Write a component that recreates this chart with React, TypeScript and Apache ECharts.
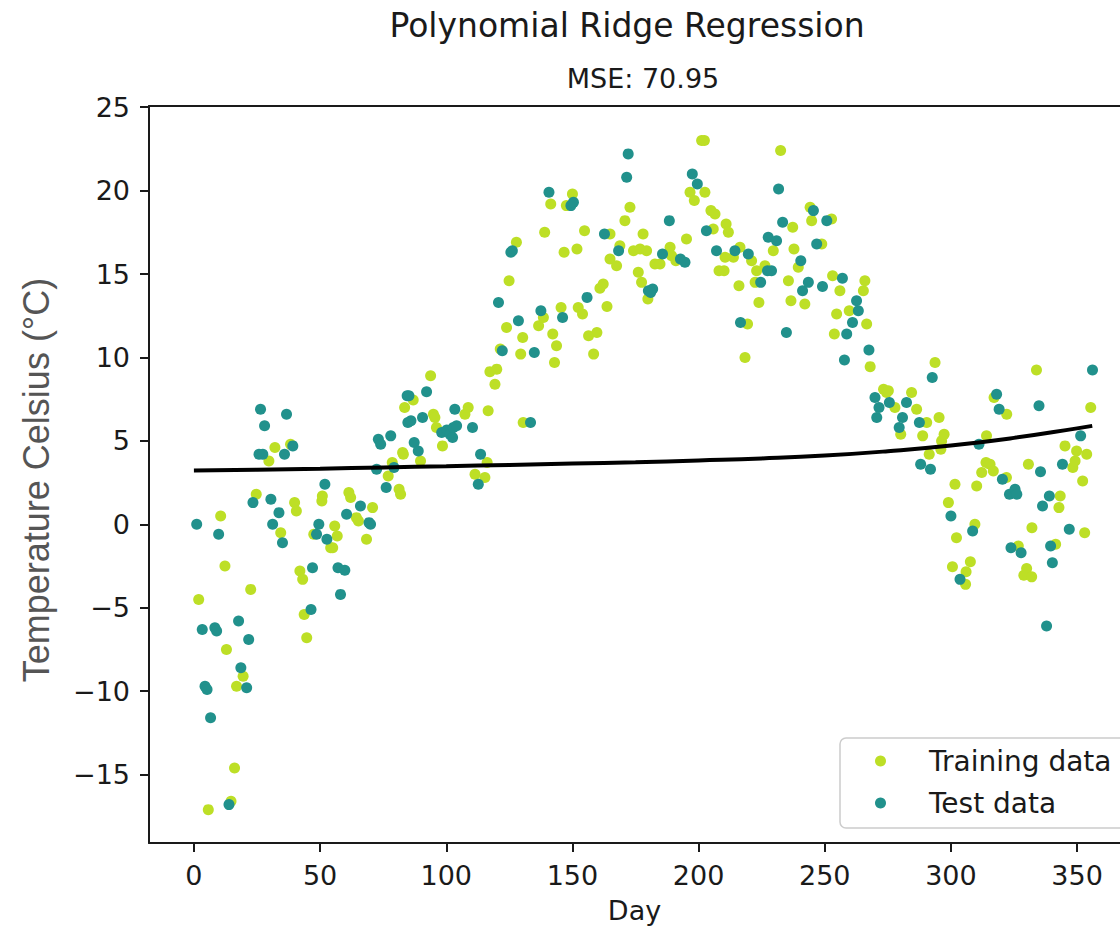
import React, { useEffect, useRef } from "react";
import * as echarts from "echarts";

const titleText = "Polynomial Ridge Regression";
const subtitleText = "MSE: 70.95";
const xLabel = "Day";
const yLabel = "Temperature Celsius (°C)";
const seriesNames = ["Training data", "Test data"];

const xTicks = [0, 50, 100, 150, 200, 250, 300, 350];
const yTicks = [-15, -10, -5, 0, 5, 10, 15, 20, 25];

// [day, temperature]
const trainData: number[][] = [
  [1.9, -4.5], [5.7, -17.1], [10.6, 0.5], [12.3, -2.5], [12.9, -7.5], [14.7, -16.6], [16.1, -14.6],
  [16.9, -9.7], [19.5, -9.1], [22.5, -3.9], [24.7, 1.8], [29.7, 3.8], [32.1, 4.6], [38.3, 4.8],
  [34.4, -0.5], [39.9, 1.3], [40.6, 0.8], [42, -2.8], [43.1, -3.3], [43.7, -5.4], [44.7, -6.8],
  [47.5, -0.6], [50.7, 1.4], [50.9, 1.7], [54.2, -1.4], [55, -1.4], [55.8, -0.1], [56.8, -0.7],
  [61.4, 1.9], [62.1, 1.6], [64.4, 0.4], [65.2, 0.2], [68.4, -0.9], [70.8, 1.0], [77, 2.9],
  [78.6, 3.7], [81.3, 2.1], [81.9, 1.8], [82.7, 4.3], [83.5, 7.0], [83, 4.2], [86.9, 7.45],
  [89.8, 3.8], [93.8, 8.9], [94.9, 6.6], [95.5, 6.4], [96.1, 5.8], [98.5, 4.7], [107.4, 6.6],
  [108.7, 7.0], [111.4, 3.0], [115.3, 2.8], [116.2, 3.7], [116.6, 6.8], [117.3, 9.15], [119.3, 8.4],
  [120, 9.3], [121.4, 10.5], [123.9, 11.8], [124.9, 14.6], [127.8, 16.9], [129.5, 10.2], [130.3, 11.2],
  [130.5, 6.1], [136.6, 11.9], [138.5, 12.4], [139, 17.5], [141.4, 19.2], [142.2, 11.4], [142.9, 9.7],
  [143.7, 10.7], [145.5, 13.0], [146.7, 16.3], [147.6, 19.1], [150, 19.8], [151.8, 16.5], [152.3, 13.0],
  [154, 12.6], [154.8, 17.6], [156.4, 11.3], [158.4, 10.2], [159.7, 11.5], [160.9, 14.15], [162.2, 14.4],
  [163.7, 13.05], [164.9, 17.4], [164.9, 15.9], [167.5, 15.5], [168.8, 16.7], [170.8, 18.2], [172.8, 19.0],
  [174.2, 16.4], [176.1, 15.1], [176.8, 16.5], [177.4, 14.5], [178, 17.4], [179.4, 16.4], [179.9, 13.5],
  [182.7, 15.6], [184.7, 15.6], [188.7, 16.6], [189.3, 16.1], [191, 15.8], [195.2, 17.1], [196.6, 19.9],
  [198.3, 19.4], [201.2, 23.0], [202.3, 23.0], [202.5, 19.9], [204.9, 18.8], [205.8, 17.7], [206.5, 18.6],
  [208.1, 15.2], [210.1, 15.2], [210.5, 16.0], [210.9, 18.0], [211.8, 17.5], [213.8, 16.0], [216, 14.3],
  [216.4, 16.6], [218.4, 10.0], [219.4, 12.0], [221, 15.8], [222.4, 14.5], [223, 15.2], [223.9, 13.3],
  [226.3, 15.5], [229.6, 16.4], [232.5, 22.4], [235.6, 14.6], [236.6, 13.4], [237.3, 17.8], [237.8, 16.5],
  [239.5, 15.4], [242.1, 13.2], [244.2, 19.0], [244.8, 18.2], [248.8, 16.8], [252.7, 18.3], [253.1, 14.9],
  [253.8, 11.4], [254.7, 12.6], [256, 14.0], [259.7, 12.8], [265.3, 14.0], [265.9, 14.6], [266.6, 12.0],
  [268, 9.45], [273.3, 8.1], [274.5, 7.9], [275.2, 8.0], [277.8, 7.0], [280.1, 5.4], [284.4, 7.9],
  [286.4, 6.9], [288.8, 5.3], [290.4, 6.1], [291.4, 4.2], [293.7, 9.7], [295.3, 6.4], [296.3, 5.0],
  [296, 4.5], [297.3, 5.4], [299, 1.3], [300.6, -2.55], [301.6, 2.4], [302.2, -0.8], [305.8, -3.6],
  [306, -2.85], [307.7, -2.25], [309.5, 0.0], [310.2, 2.3], [312.2, 3.1], [313.9, 3.7], [314.1, 5.3],
  [315.5, 3.6], [316.8, 3.2], [317.1, 7.6], [322, 2.8], [322.1, 6.6], [326.7, -1.3], [328.9, -3.05],
  [330, -2.65], [330.7, 3.6], [332, -3.15], [332.1, -0.2], [333.9, 9.25], [341.5, -1.2], [342.8, 1.0],
  [343.3, 1.7], [345.2, 4.7], [348.3, 3.4], [349.2, 3.8], [349.8, 4.4], [352.2, 2.6], [353, -0.5],
  [353.8, 4.2], [355.4, 7.0],
];

const testData: number[][] = [
  [1.1, 0.0], [3.3, -6.3], [4.4, -9.7], [5.2, -9.9], [6.6, -11.6], [8.3, -6.2], [9.0, -6.4],
  [9.8, -0.6], [13.9, -16.8], [17.7, -5.8], [18.6, -8.6], [20.9, -9.8], [21.7, -6.9], [23.4, 1.3],
  [25.8, 4.2], [26.4, 6.9], [27.3, 4.2], [28, 5.9], [30.5, 1.5], [31.2, 0.0], [33.7, 0.7],
  [35.1, -1.1], [35.9, 4.2], [36.7, 6.6], [39.2, 4.7], [46.4, -5.1], [47, -2.6], [48.6, -0.6],
  [49.5, 0.0], [51.9, 2.4], [52.7, -0.9], [57.1, -2.6], [58.1, -4.2], [59.8, -2.75], [60.5, 0.6],
  [66, 1.1], [69.4, 0.1], [70, 0.0], [72.4, 3.3], [73.1, 5.1], [74, 4.8], [76.2, 2.2],
  [78, 5.3], [79.3, 3.4], [84.5, 7.7], [84.8, 6.1], [85.2, 7.7], [86, 6.2], [87.3, 4.9],
  [88.9, 4.4], [90.6, 6.4], [92.2, 7.95], [98.2, 5.5], [100.2, 5.65], [101.5, 5.4], [102.5, 5.2],
  [102.8, 5.8], [103.4, 6.9], [104.1, 5.9], [110.4, 5.8], [112.7, 2.4], [113.6, 4.2], [120.7, 13.3],
  [122.2, 10.4], [125.6, 16.3], [126.2, 16.4], [128.6, 12.2], [133.4, 6.1], [134.9, 10.3], [137.5, 12.8],
  [140.7, 19.9], [146.1, 12.4], [149.4, 19.1], [150.4, 19.3], [155.8, 13.6], [162.7, 17.4], [168.3, 16.4],
  [171.5, 20.8], [172.1, 22.2], [180.1, 14.0], [181.8, 14.1], [181, 13.9], [185.7, 16.2], [188.4, 18.2],
  [192.8, 15.9], [194.6, 15.7], [197.5, 21.0], [199.5, 20.4], [203.1, 17.6], [207.1, 16.4], [214.4, 16.4],
  [216.6, 12.1], [219.7, 16.2], [224.6, 14.5], [227.3, 15.2], [227.6, 17.2], [228.9, 15.2], [230.9, 17.0],
  [231.7, 20.1], [233.3, 18.1], [234.8, 11.5], [240.5, 15.8], [241.2, 14.0], [243.5, 14.5], [245.5, 18.8],
  [246.8, 16.8], [249.1, 14.25], [250.8, 18.2], [257, 14.75], [257.8, 9.85], [258.7, 11.4], [261, 12.1],
  [262.6, 13.4], [263.3, 12.8], [267.5, 10.45], [269.9, 7.6], [270.6, 6.4], [271.5, 7.0], [275.6, 7.3],
  [279.5, 5.8], [280.8, 6.4], [282.4, 7.3], [287.5, 6.1], [288, 3.6], [291.9, 3.3], [292.6, 8.8],
  [300, 0.5], [303.6, -3.3], [308.6, -0.4], [311.1, 4.8], [318.1, 7.8], [319.1, 6.9], [320.4, 2.7],
  [323.2, 1.8], [323.8, -1.4], [325.4, 2.1], [326.1, 1.8], [327.8, -1.7], [334.9, 7.1], [335.5, 3.15],
  [336.3, 1.1], [337.9, -6.1], [339, 1.7], [339.5, -1.3], [340.2, -2.3], [344.2, 3.6], [346.9, -0.3],
  [351.4, 5.3], [356.1, 9.25],
];

const ridgeDays = [0, 25, 50, 75, 100, 125, 150, 175, 200, 225, 250, 275, 300, 325, 350, 356];
const ridgeTemps = [3.23, 3.27, 3.33, 3.41, 3.48, 3.56, 3.64, 3.72, 3.83, 3.95, 4.12, 4.38, 4.72, 5.18, 5.75, 5.9];

const TRAIN_COLOR = "#bddf26";
const TEST_COLOR = "#21918c";
const FONT = "DejaVu Sans";
const INK = "#1a1a1a";
const X_MIN = -17.8;
const X_MAX = 367;

export default function App() {
  const ref = useRef<HTMLDivElement>(null);

  useEffect(() => {
    if (!ref.current) return;
    const chart = echarts.init(ref.current, null, { renderer: "svg" });
    const ridgeData = ridgeDays.map((d, i) => [d, ridgeTemps[i]]);
    chart.setOption({
      animation: false,
      backgroundColor: "#ffffff",
      textStyle: { fontFamily: FONT },
      grid: {
        left: 149,
        right: 0,
        top: 106,
        bottom: 88,
        show: false,
      },
      graphic: [
        {
          type: "text",
          x: 627,
          y: 25,
          style: {
            text: titleText,
            font: `33px "${FONT}"`,
            fill: INK,
            textAlign: "center",
            textVerticalAlign: "middle",
          },
        },
        {
          type: "text",
          x: 643,
          y: 78,
          style: {
            text: subtitleText,
            font: `27px "${FONT}"`,
            fill: INK,
            textAlign: "center",
            textVerticalAlign: "middle",
          },
        },
        {
          type: "text",
          x: 36,
          y: 480,
          rotation: Math.PI / 2,
          style: {
            text: yLabel,
            font: `36px "Liberation Sans"`,
            fill: "#555555",
            textAlign: "center",
            textVerticalAlign: "middle",
          },
        },
      ],
      legend: {
        data: seriesNames,
        orient: "vertical",
        left: 840,
        top: 738,
        padding: [8, 14, 10, 35],
        itemGap: 12,
        itemWidth: 11,
        itemHeight: 11,
        icon: "circle",
        backgroundColor: "rgba(255,255,255,0.85)",
        borderColor: "#cccccc",
        borderWidth: 1.5,
        borderRadius: 6,
        textStyle: {
          fontFamily: FONT,
          fontSize: 28,
          color: INK,
          lineHeight: 30,
          padding: [0, 0, 0, 38],
        },
      },
      xAxis: [
        {
          type: "value",
          min: X_MIN,
          max: X_MAX,
          position: "bottom",
          name: xLabel,
          nameLocation: "middle",
          nameGap: 54,
          nameTextStyle: { fontFamily: FONT, fontSize: 27, color: INK },
          splitLine: { show: false },
          axisLine: { show: true, onZero: false, lineStyle: { color: INK, width: 2 } },
          axisTick: {
            show: true,
            length: 9,
            inside: false,
            customValues: xTicks,
            lineStyle: { color: INK, width: 2 },
          },
          axisLabel: {
            customValues: xTicks,
            fontFamily: FONT,
            fontSize: 27,
            color: INK,
            margin: 19,
            formatter: (v: number) => String(v),
          },
        },
        {
          type: "value",
          min: X_MIN,
          max: X_MAX,
          position: "top",
          splitLine: { show: false },
          axisLine: { show: true, onZero: false, lineStyle: { color: INK, width: 2 } },
          axisTick: { show: false },
          axisLabel: { show: false },
        },
      ],
      yAxis: {
        type: "value",
        min: -19.1,
        max: 25.07,
        position: "left",
        splitLine: { show: false },
        axisLine: { show: true, onZero: false, lineStyle: { color: INK, width: 2 } },
        axisTick: {
          show: true,
          length: 9,
          inside: false,
          customValues: yTicks,
          lineStyle: { color: INK, width: 2 },
        },
        axisLabel: {
          customValues: yTicks,
          fontFamily: FONT,
          fontSize: 27,
          color: INK,
          margin: 19,
          formatter: (v: number) => (v < 0 ? "\u2212" + String(Math.abs(v)) : String(v)),
        },
      },
      series: [
        {
          name: seriesNames[0],
          type: "scatter",
          xAxisIndex: 0,
          data: trainData,
          symbol: "circle",
          symbolSize: 11,
          itemStyle: { color: TRAIN_COLOR, opacity: 1 },
          z: 2,
        },
        {
          name: seriesNames[1],
          type: "scatter",
          xAxisIndex: 0,
          data: testData,
          symbol: "circle",
          symbolSize: 11,
          itemStyle: { color: TEST_COLOR, opacity: 1 },
          z: 3,
        },
        {
          name: "Ridge fit",
          type: "line",
          xAxisIndex: 0,
          data: ridgeData,
          smooth: true,
          showSymbol: false,
          symbol: "none",
          lineStyle: { color: "#000000", width: 4 },
          z: 4,
        },
      ],
    });
    return () => chart.dispose();
  }, []);

  return (
    <div
      ref={ref}
      style={{ position: "fixed", left: 0, top: 0, width: 1120, height: 931, overflow: "hidden", background: "#fff" }}
    />
  );
}
